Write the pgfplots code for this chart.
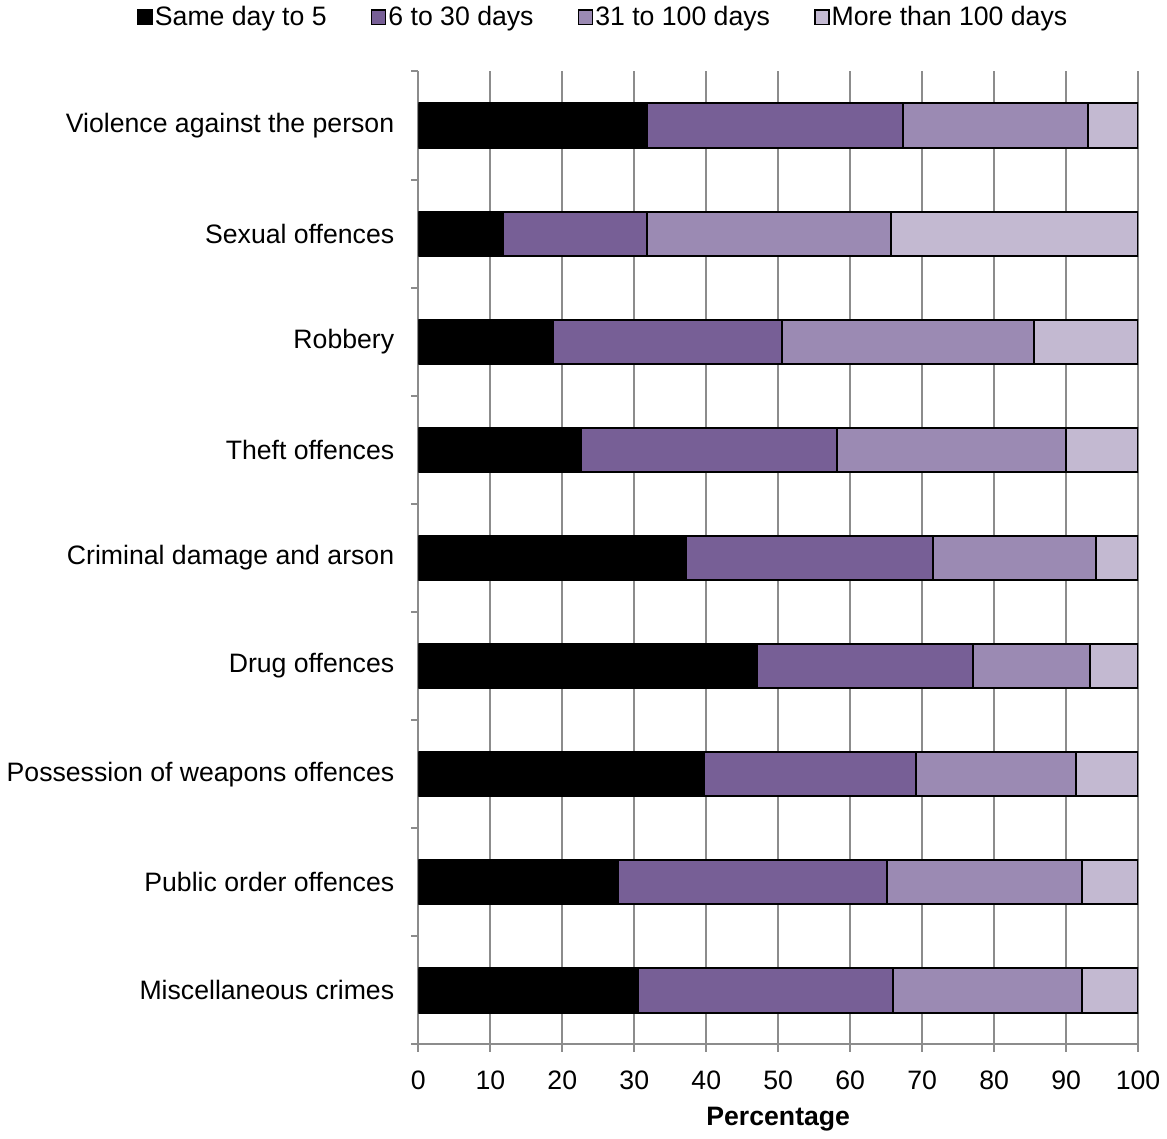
\documentclass[border=0pt]{standalone}
\usepackage{pgfplots}
\pgfplotsset{compat=1.18}
\usepackage{fontspec}
\setmainfont{Liberation Sans}
\definecolor{gridgray}{RGB}{140,140,140}
\definecolor{pdark}{RGB}{119,95,150}
\definecolor{pmid}{RGB}{155,138,179}
\definecolor{plight}{RGB}{195,185,209}
\newcommand{\chfont}{\fontsize{13.25}{15}\selectfont}
\begin{document}
\begin{tikzpicture}
\begin{axis}[
  scale only axis,
  width=358pt, height=484pt,
  xbar stacked,
  bar width=22pt,
  xmin=0, xmax=100,
  ymin=-0.5, ymax=8.5,
  y dir=reverse,
  axis x line=bottom, axis y line=left,
  axis line style={draw=gridgray, line width=1pt, -},
  xtick={0,10,...,100},
  tick align=outside,
  major tick length=3.5pt,
  tick style={draw=gridgray, line width=1pt},
  xmajorgrids,
  grid style={draw=gridgray, line width=1pt},
  ytick={-0.5,0.5,...,8.5},
  yticklabels={Violence against the person, Sexual offences, Robbery, Theft offences, Criminal damage and arson, Drug offences, Possession of weapons offences, Public order offences, Miscellaneous crimes},
  y tick label as interval,
  yticklabel style={font=\chfont, xshift=-5pt},
  xticklabel style={font=\chfont, yshift=-6pt},
  /pgf/number format/assume math mode=true,
  xlabel={\textbf{Percentage}},
  xlabel style={font=\chfont, yshift=-2pt},
  legend style={draw=none, font=\chfont, at={(0.257,1)}, anchor=center, yshift=27pt,
    legend columns=4, /tikz/every even column/.append style={column sep=21pt},
    nodes={inner sep=1pt}},
  legend image code/.code={\draw[#1, line width=0.7pt] (0pt,-3.5pt) rectangle (7pt,3.5pt);},
  every axis plot/.append style={draw=black, line width=1pt},
]
\addplot[fill=black] coordinates {(31.8,0) (11.7,1) (18.7,2) (22.6,3) (37.2,4) (47.1,5) (39.7,6) (27.7,7) (30.5,8)};
\addplot[fill=pdark] coordinates {(35.5,0) (20.0,1) (31.8,2) (35.5,3) (34.3,4) (30.0,5) (29.5,6) (37.4,7) (35.4,8)};
\addplot[fill=pmid] coordinates {(25.7,0) (34.0,1) (35.0,2) (31.9,3) (22.7,4) (16.2,5) (22.2,6) (27.1,7) (26.3,8)};
\addplot[fill=plight] coordinates {(7.0,0) (34.3,1) (14.5,2) (10.0,3) (5.8,4) (6.7,5) (8.6,6) (7.8,7) (7.8,8)};
\legend{Same day to 5, 6 to 30 days, 31 to 100 days, More than 100 days}
\end{axis}
\end{tikzpicture}
\end{document}
